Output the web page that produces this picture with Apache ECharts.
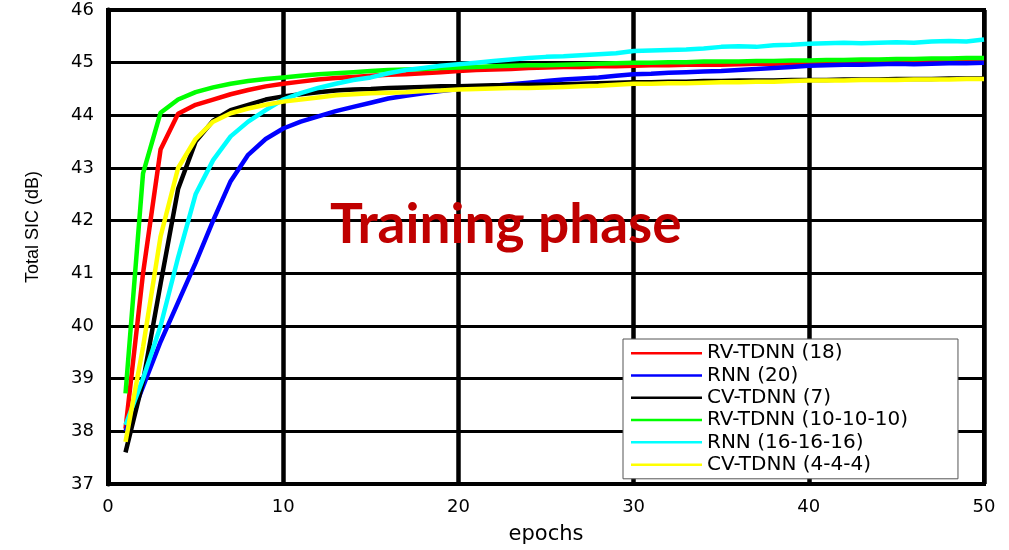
<!DOCTYPE html>
<html>
<head>
<meta charset="utf-8">
<script src="https://cdn.jsdelivr.net/npm/echarts@6/dist/echarts.min.js"></script>
<style>
  html, body { margin: 0; padding: 0; background: #fff; }
  #chart { width: 1009px; height: 550px; }
</style>
</head>
<body>
<div id="chart"></div>
<script>
// epochs 1..50
const epochs = []
for (let i = 1; i <= 50; i++) epochs.push(i)

const rvTdnn18 = [38.05, 41.0, 43.35, 44.03, 44.2, 44.3, 44.4, 44.48, 44.55, 44.6,
  44.64, 44.68, 44.71, 44.73, 44.75, 44.77, 44.78, 44.8, 44.82, 44.84,
  44.86, 44.87, 44.88, 44.9, 44.91, 44.92, 44.92, 44.93, 44.93, 44.94,
  44.95, 44.95, 44.96, 44.96, 44.96, 44.97, 44.98, 44.98, 44.99, 45.0,
  45.0, 45.0, 45.01, 45.01, 45.01, 45.01, 45.02, 45.02, 45.02, 45.02]
const rnn20 = [38.0, 38.85, 39.7, 40.45, 41.2, 42.0, 42.75, 43.25, 43.55, 43.75,
  43.88, 43.98, 44.08, 44.16, 44.24, 44.32, 44.37, 44.42, 44.46, 44.5,
  44.53, 44.56, 44.59, 44.62, 44.65, 44.68, 44.7, 44.72, 44.75, 44.78,
  44.79, 44.81, 44.82, 44.83, 44.84, 44.86, 44.88, 44.9, 44.92, 44.94,
  44.95, 44.96, 44.96, 44.97, 44.98, 44.97, 44.98, 44.99, 44.99, 45.0]
const cvTdnn7 = [37.6, 38.95, 40.8, 42.6, 43.5, 43.9, 44.1, 44.2, 44.3, 44.36,
  44.4, 44.44, 44.47, 44.49, 44.5, 44.52, 44.53, 44.54, 44.55, 44.55,
  44.56, 44.57, 44.57, 44.58, 44.58, 44.59, 44.6, 44.61, 44.62, 44.63,
  44.63, 44.64, 44.64, 44.65, 44.65, 44.66, 44.66, 44.66, 44.67, 44.67,
  44.67, 44.68, 44.68, 44.68, 44.69, 44.69, 44.69, 44.7, 44.7, 44.7]
const rvTdnn10 = [38.72, 42.9, 44.05, 44.3, 44.44, 44.53, 44.6, 44.65, 44.69, 44.72,
  44.75, 44.78, 44.8, 44.82, 44.84, 44.86, 44.87, 44.88, 44.9, 44.91,
  44.92, 44.93, 44.94, 44.95, 44.95, 44.96, 44.97, 44.98, 44.99, 45.0,
  45.0, 45.01, 45.01, 45.02, 45.02, 45.02, 45.03, 45.03, 45.04, 45.04,
  45.05, 45.05, 45.06, 45.06, 45.07, 45.07, 45.08, 45.08, 45.09, 45.09]
const rnn16 = [38.12, 39.0, 40.0, 41.3, 42.5, 43.15, 43.6, 43.88, 44.1, 44.3,
  44.42, 44.52, 44.6, 44.67, 44.72, 44.8, 44.86, 44.9, 44.94, 44.97,
  45.0, 45.03, 45.06, 45.09, 45.11, 45.12, 45.14, 45.16, 45.18, 45.22,
  45.23, 45.24, 45.25, 45.27, 45.3, 45.31, 45.3, 45.33, 45.34, 45.36,
  45.37, 45.38, 45.37, 45.38, 45.39, 45.38, 45.4, 45.41, 45.4, 45.44]
const cvTdnn4 = [37.8, 39.6, 41.7, 43.0, 43.55, 43.88, 44.04, 44.13, 44.2, 44.26,
  44.3, 44.34, 44.38, 44.4, 44.42, 44.43, 44.44, 44.46, 44.47, 44.49,
  44.5, 44.51, 44.52, 44.52, 44.53, 44.54, 44.55, 44.56, 44.58, 44.6,
  44.6, 44.61, 44.61, 44.62, 44.63, 44.63, 44.64, 44.64, 44.65, 44.66,
  44.66, 44.66, 44.67, 44.67, 44.67, 44.68, 44.68, 44.68, 44.69, 44.69]

const names = ['RV-TDNN (18)', 'RNN (20)', 'CV-TDNN (7)', 'RV-TDNN (10-10-10)', 'RNN (16-16-16)', 'CV-TDNN (4-4-4)']
const values = [rvTdnn18, rnn20, cvTdnn7, rvTdnn10, rnn16, cvTdnn4]
const colors = ['#ff0000', '#0000ff', '#000000', '#00ff00', '#00ffff', '#ffff00']

const chart = echarts.init(document.getElementById('chart'))

const series = names.map((name, i) => {
  return {
    name: name,
    type: 'line',
    data: epochs.map((e, j) => [e, values[i][j]]),
    symbol: 'none',
    // 线宽
    lineStyle: { width: 4.5, color: colors[i] },
    itemStyle: { color: colors[i] },
    z: 3 + i
  }
})

const option = {
  animation: false,
  backgroundColor: '#fff',
  grid: {
    left: 108,
    right: 25,
    top: 10,
    bottom: 60,
    show: true,
    borderColor: '#000',
    borderWidth: 4
  },
  xAxis: {
    type: 'value',
    min: 0,
    max: 50,
    interval: 10,
    name: 'epochs',
    nameLocation: 'middle',
    nameGap: 40,
    nameTextStyle: { fontFamily: 'DejaVu Sans', fontSize: 21, color: '#000' },
    axisLine: { lineStyle: { color: '#000', width: 4 } },
    axisTick: { show: false },
    axisLabel: { fontFamily: 'DejaVu Sans', fontSize: 18, color: '#000', margin: 14 },
    splitLine: { lineStyle: { color: '#000', width: 4.5 } }
  },
  yAxis: {
    type: 'value',
    min: 37,
    max: 46,
    interval: 1,
    name: 'Total SIC (dB)',
    nameLocation: 'middle',
    nameGap: 66,
    nameTextStyle: { fontFamily: 'Liberation Sans', fontSize: 18, color: '#000', padding: [0, 0, 0, 40] },
    axisLine: { lineStyle: { color: '#000', width: 5 } },
    axisTick: { show: false },
    axisLabel: { fontFamily: 'DejaVu Sans', fontSize: 18, color: '#000', margin: 14 },
    splitLine: { lineStyle: { color: '#000', width: 3 } }
  },
  legend: {
    data: names,
    orient: 'vertical',
    left: 623,
    top: 339,
    padding: [3, 50, 3, 8],
    itemGap: 0,
    itemWidth: 71,
    itemHeight: 2.5,
    icon: 'rect',
    backgroundColor: '#fff',
    borderColor: '#555',
    borderWidth: 1,
    textStyle: { fontFamily: 'DejaVu Sans', fontSize: 20, color: '#000', lineHeight: 22.3 }
  },
  graphic: [
    {
      type: 'text',
      left: 330,
      top: 198,
      z: 100,
      style: {
        text: 'Training phase',
        fontFamily: 'Lato',
        fontWeight: 'bold',
        fontSize: 55,
        fill: '#c00000'
      }
    }
  ],
  series: series
}

chart.setOption(option)
</script>
</body>
</html>
